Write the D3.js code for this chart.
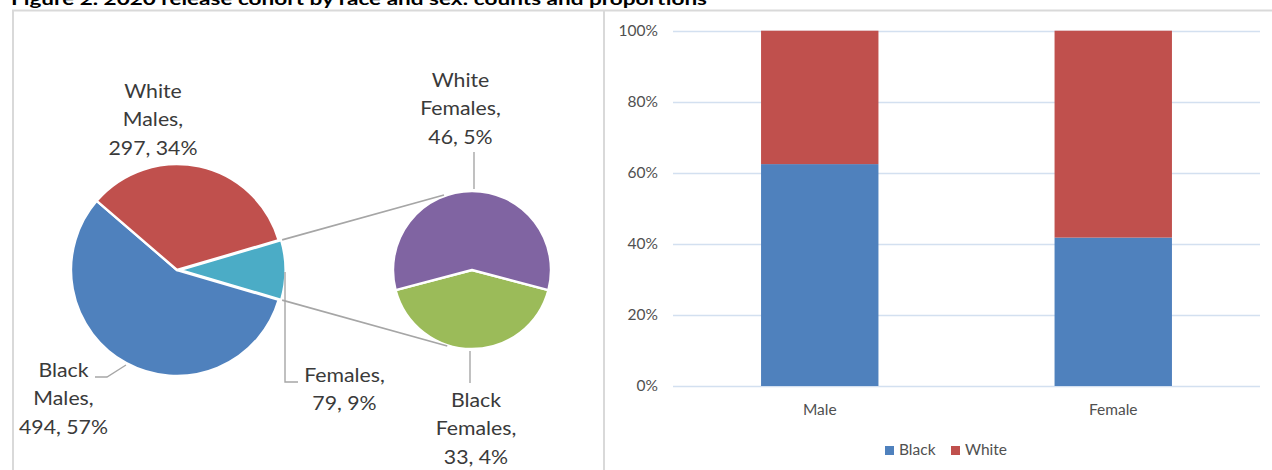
<!DOCTYPE html>
<html>
<head>
<meta charset="utf-8">
<script src="https://cdn.jsdelivr.net/npm/d3@7"></script>
<style>
  html, body { margin: 0; padding: 0; background: #fff; }
  svg { display: block; }
  text { font-family: Lato, "Open Sans", sans-serif; }
</style>
</head>
<body>
<svg id="chart" width="1272" height="470"></svg>
<script>
// ---------- DATA ----------
const titleText = "Figure 2. 2020 release cohort by race and sex: counts and proportions";

// Main pie (clockwise order starting at the "Females" slice)
const pieCategories = ["Females", "Black Males", "White Males"];
const pieCounts = [79, 494, 297];

// Secondary pie (breakdown of Females), clockwise starting at Black Females
const subCategories = ["Black Females", "White Females"];
const subCounts = [33, 46];

// Stacked 100% bar chart
const barCategories = ["Male", "Female"];
const barSeries = ["Black", "White"];
const barBlack = [494, 33];
const barWhite = [297, 46];
const yTickValues = [0, 0.2, 0.4, 0.6, 0.8, 1.0];

// ---------- STYLE ----------
const colors = {
  "Black Males": "#4f81bd", "White Males": "#c0504d", "Females": "#4bacc6",
  "White Females": "#8064a2", "Black Females": "#9bbb59",
  "Black": "#4f81bd", "White": "#c0504d"
};
const labelColor = "#3a3a3a";
const axisColor = "#505050";
const leaderColor = "#a6a6a6";

const svg = d3.select("#chart");
const total = d3.sum(pieCounts);
const pct = d3.format(".0%");

// ---------- PANEL BORDERS & TITLE ----------
svg.append("path")
  .attr("d", "M13,472 L13,10.5 L1274,10.5 M604,10.5 L604,472")
  .attr("fill", "none").attr("stroke", "#d9d9d9").attr("stroke-width", 2);

svg.append("text")
  .attr("x", 11).attr("y", 5)
  .attr("font-size", 17).attr("font-weight", "bold").attr("fill", "#000")
  .attr("textLength", 696).attr("lengthAdjust", "spacingAndGlyphs")
  .text(titleText);

// ---------- MAIN PIE ----------
const mainC = [177, 270], mainR = 106;
const femaleIdx = pieCategories.indexOf("Females");
const femaleHalf = Math.PI * pieCounts[femaleIdx] / total;
const mainPie = d3.pie().sort(null).value(d => d.v)
  .startAngle(Math.PI / 2 - femaleHalf).endAngle(Math.PI / 2 - femaleHalf + 2 * Math.PI);
const mainData = mainPie(pieCategories.map((c, i) => ({ c, v: pieCounts[i] })));
const mainArc = d3.arc().innerRadius(0).outerRadius(mainR);
const explode = 2.5;

const mainG = svg.append("g").attr("transform", `translate(${mainC[0]},${mainC[1]})`);
mainG.selectAll("path").data(mainData).join("path")
  .attr("d", mainArc)
  .attr("transform", d => {
    if (d.data.c !== "Females") return null;
    const a = (d.startAngle + d.endAngle) / 2;
    return `translate(${explode * Math.sin(a)},${-explode * Math.cos(a)})`;
  })
  .attr("fill", d => colors[d.data.c])
  .attr("stroke", "#fff").attr("stroke-width", 2.4).attr("stroke-linejoin", "round");

// ---------- SECONDARY PIE ----------
const subC = [472, 270], subR = 79;
const subTotal = d3.sum(subCounts);
const bfHalf = Math.PI * subCounts[0] / subTotal;
const subPie = d3.pie().sort(null).value(d => d.v)
  .startAngle(Math.PI - bfHalf).endAngle(Math.PI - bfHalf + 2 * Math.PI);
const subData = subPie(subCategories.map((c, i) => ({ c, v: subCounts[i] })));
const subArc = d3.arc().innerRadius(0).outerRadius(subR);
const subG = svg.append("g").attr("transform", `translate(${subC[0]},${subC[1]})`);
subG.selectAll("path").data(subData).join("path")
  .attr("d", subArc)
  .attr("fill", d => colors[d.data.c])
  .attr("stroke", "#fff").attr("stroke-width", 2.4).attr("stroke-linejoin", "round");

// ---------- CONNECTOR LINES ----------
const fem = mainData.find(d => d.data.c === "Females");
const femMid = (fem.startAngle + fem.endAngle) / 2;
const ox = mainC[0] + explode * Math.sin(femMid), oy = mainC[1] - explode * Math.cos(femMid);
const pt = (cx, cy, r, a) => [cx + r * Math.sin(a), cy - r * Math.cos(a)];
const p1 = pt(ox, oy, mainR + 1, fem.startAngle);
const p2 = pt(ox, oy, mainR + 1, fem.endAngle);
const q1 = pt(subC[0], subC[1], subR + 1, -20.5 * Math.PI / 180);
const q2 = pt(subC[0], subC[1], subR + 1, 198 * Math.PI / 180);
const lineGen = d3.line();
[[p1, q1], [p2, q2]].forEach(seg => {
  svg.append("path").attr("d", lineGen(seg))
    .attr("fill", "none").attr("stroke", leaderColor).attr("stroke-width", 1.6);
});

// ---------- LEADER LINES ----------
const leaders = [
  [[126, 365], [107, 377], [95, 377]],
  [[285, 272], [285, 382], [298, 382]],
  [[474, 152], [474, 189]],
  [[470, 351], [470, 383]]
];
leaders.forEach(l => svg.append("path").attr("d", lineGen(l))
  .attr("fill", "none").attr("stroke", leaderColor).attr("stroke-width", 1.4));

// ---------- PIE LABELS ----------
const countOf = name => {
  const i = pieCategories.indexOf(name);
  if (i >= 0) return pieCounts[i];
  return subCounts[subCategories.indexOf(name)];
};
function pieLabel(name, lines, x, y) {
  const n = countOf(name);
  const all = lines.concat([`${n}, ${pct(n / total)}`]);
  const t = svg.append("text")
    .attr("transform", `translate(${x},${y}) scale(1.12,1)`)
    .attr("text-anchor", "middle").attr("font-size", 19).attr("fill", labelColor);
  all.forEach((s, i) => t.append("tspan").attr("x", 0).attr("y", i * 28.5).text(s));
}
pieLabel("White Males", ["White", "Males,"], 153, 98);
pieLabel("Black Males", ["Black", "Males,"], 63.5, 377);
pieLabel("Females", ["Females,"], 344.5, 382);
pieLabel("White Females", ["White", "Females,"], 460.5, 87);
pieLabel("Black Females", ["Black", "Females,"], 476, 407);

// ---------- STACKED BAR CHART ----------
const plotL = 673, plotR = 1260, plotT = 30.7, plotB = 386;
const x = d3.scaleBand().domain(barCategories).range([plotL, plotR])
  .paddingInner(0.6).paddingOuter(0.3);
const y = d3.scaleLinear().domain([0, 1]).range([plotB, plotT]);

const rows = barCategories.map((c, i) => ({ cat: c, Black: barBlack[i], White: barWhite[i] }));
const stacked = d3.stack().keys(barSeries).offset(d3.stackOffsetExpand)(rows);

// gridlines
svg.append("g").selectAll("line").data(yTickValues).join("line")
  .attr("x1", plotL).attr("x2", plotR)
  .attr("y1", d => Math.round(y(d)) + 0.5).attr("y2", d => Math.round(y(d)) + 0.5)
  .attr("stroke", "#d3e0f0").attr("stroke-width", 1.3);

// bars
svg.append("g").selectAll("g").data(stacked).join("g")
  .attr("fill", d => colors[d.key])
  .selectAll("rect").data(d => d).join("rect")
  .attr("x", d => x(d.data.cat))
  .attr("width", x.bandwidth())
  .attr("y", d => y(d[1]))
  .attr("height", d => y(d[0]) - y(d[1]));

// y axis labels
const yAxis = d3.axisLeft(y).tickValues(yTickValues).tickFormat(d3.format(".0%")).tickSize(0).tickPadding(0);
const yG = svg.append("g").attr("transform", `translate(658,0)`).call(yAxis);
yG.select(".domain").remove();
yG.selectAll("text").attr("font-family", "Lato, sans-serif").attr("font-size", 15.5).attr("fill", axisColor);

// x axis labels
const xAxis = d3.axisBottom(x).tickSize(0).tickPadding(0);
const xG = svg.append("g").attr("transform", `translate(0,${plotB})`).call(xAxis);
xG.select(".domain").remove();
xG.selectAll("text").attr("font-family", "Lato, sans-serif").attr("font-size", 15.5)
  .attr("fill", axisColor).attr("dy", null).attr("y", 29);

// legend
const legendItems = [{ k: "Black", x: 885 }, { k: "White", x: 951 }];
const lg = svg.append("g");
legendItems.forEach(it => {
  lg.append("rect").attr("x", it.x).attr("y", 446).attr("width", 9).attr("height", 9).attr("fill", colors[it.k]);
  lg.append("text").attr("x", it.x + 14).attr("y", 455)
    .attr("font-size", 15.5).attr("fill", axisColor).text(it.k);
});
</script>
</body>
</html>
